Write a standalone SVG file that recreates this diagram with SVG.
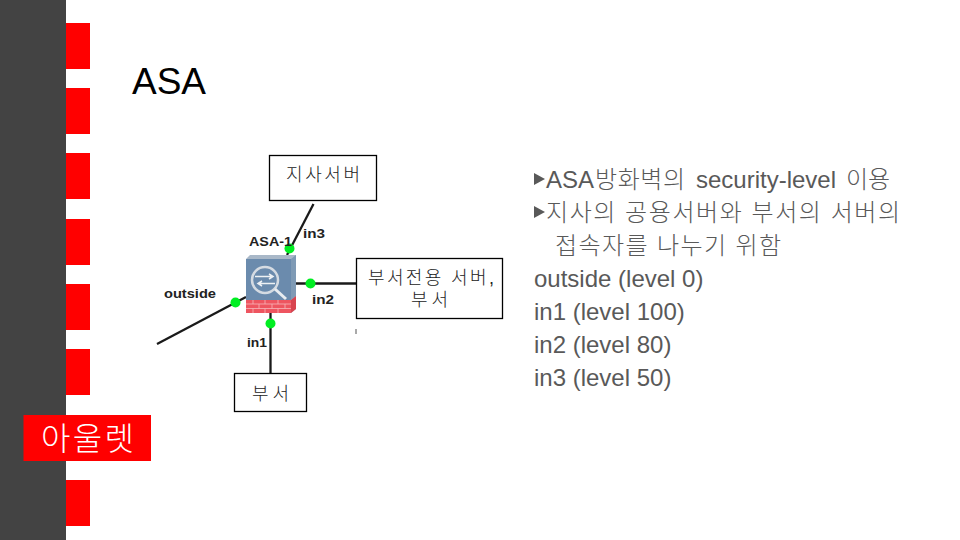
<svg xmlns="http://www.w3.org/2000/svg" width="960" height="540" viewBox="0 0 960 540">
<style>
.k{font-family:"Liberation Sans","Noto Sans CJK KR",sans-serif;font-weight:300}
.r{fill:#ff0000}
.box{fill:#fff;stroke:#000;stroke-width:1.3}
.bl{font-size:18px;fill:#222}
.lab{font-family:"Liberation Sans",sans-serif;font-size:13px;font-weight:bold;fill:#222}
.body{font-size:24px;fill:#595959}
.cn{stroke:#1a1a1a;stroke-width:2.3;fill:none}
.dot{fill:#00ee22}
</style>
<rect width="960" height="540" fill="#fff"/>
<rect x="0" y="0" width="66" height="540" fill="#434343"/>
<g id="stripes">
<rect class="r" x="66" y="23" width="24" height="46"/>
<rect class="r" x="66" y="88" width="24" height="46"/>
<rect class="r" x="66" y="153" width="24" height="46"/>
<rect class="r" x="66" y="219" width="24" height="46"/>
<rect class="r" x="66" y="284" width="24" height="46"/>
<rect class="r" x="66" y="349" width="24" height="46"/>
<rect class="r" x="66" y="480" width="24" height="46"/>
</g>
<g id="brand">
<rect class="r" x="23.500" y="415" width="127.500" height="46"/>
<text class="k" x="41" y="450" font-size="32" fill="#fff" textLength="93">아울렛</text>
</g>
<text id="title" class="k" x="132" y="94" font-size="37" fill="#000">ASA</text>
<g id="connectors">
<path class="cn" d="M313.500 204L287 255"/>
<path class="cn" d="M157 344L246 297"/>
<path class="cn" d="M294 283.500H357"/>
<path class="cn" d="M270.500 312V374"/>
<path d="M356 329V334" stroke="#555" stroke-width="1" fill="none"/>
</g>
<g id="asa">
<path d="M246 259L250 255H296V309L291 313H246Z" fill="#a9b8c8"/>
<rect x="246" y="259" width="45" height="41" fill="#6b8bad"/>
<path d="M291 259L296 255V296L291 300Z" fill="#7f9ab5"/>
<rect x="246" y="300" width="45" height="13" fill="#ee5560"/>
<path d="M291 300L296 296V309L291 313Z" fill="#d8444f"/>
<path d="M246 304H291M246 308.500H291M253 300V304M265 300V304M278 300V304M259 304V308.500M272 304V308.500M285 304V308.500M253 308.500V313M265 308.500V313M278 308.500V313" stroke="#f6b6ba" stroke-width="0.8" fill="none"/>
<circle cx="265" cy="280" r="13" fill="none" stroke="#d5dbe2" stroke-width="2.500"/>
<path d="M275 289L286 299" stroke="#e8ecf0" stroke-width="3" fill="none"/>
<path d="M255 276.500H272M269 274L273 276.500L269 279M275 283.500H259M262 281L258 283.500L262 286" stroke="#eef1f4" stroke-width="1.500" fill="none"/>
<circle class="dot" cx="289.500" cy="248.500" r="5"/>
<circle class="dot" cx="235.500" cy="302.500" r="5"/>
<circle class="dot" cx="310.500" cy="283.500" r="5"/>
<circle class="dot" cx="270.500" cy="323.500" r="5"/>
<text class="lab" x="249" y="246" textLength="43" lengthAdjust="spacingAndGlyphs">ASA-1</text>
</g>
<text class="lab" x="303" y="238" textLength="22" lengthAdjust="spacingAndGlyphs">in3</text>
<text class="lab" x="164" y="298" textLength="52" lengthAdjust="spacingAndGlyphs">outside</text>
<text class="lab" x="312" y="304" textLength="22" lengthAdjust="spacingAndGlyphs">in2</text>
<text class="lab" x="247" y="347" textLength="20" lengthAdjust="spacingAndGlyphs">in1</text>
<g id="branch-server">
<rect class="box" x="269.500" y="155.500" width="107" height="45"/>
<text class="k bl" x="286" y="181" textLength="74">지사서버</text>
</g>
<g id="dept-server">
<rect class="box" x="356.500" y="258.500" width="146" height="60"/>
<text class="k bl" x="368" y="284" textLength="126">부서전용 서버,</text>
<text class="k bl" x="411" y="306" textLength="37">부서</text>
</g>
<g id="dept">
<rect class="box" x="234.500" y="373.500" width="72" height="38"/>
<text class="k bl" x="252" y="400" textLength="37">부서</text>
</g>
<g id="body" class="k">
<path d="M534 173L545 179L534 185Z" fill="#595959"/>
<text class="body" y="187.500"><tspan x="546">ASA</tspan><tspan x="595" textLength="90">방화벽의</tspan><tspan x="696">security-level</tspan><tspan x="846" textLength="44">이용</tspan></text>
<path d="M534 206L545 212L534 218Z" fill="#595959"/>
<text class="body" x="546" y="220.500" textLength="354">지사의 공용서버와 부서의 서버의</text>
<text class="body" x="555" y="253.500" textLength="226">접속자를 나누기 위함</text>
<text class="body" x="534" y="286.500">outside (level 0)</text>
<text class="body" x="534" y="320">in1 (level 100)</text>
<text class="body" x="534" y="353">in2 (level 80)</text>
<text class="body" x="534" y="386">in3 (level 50)</text>
</g>
</svg>
